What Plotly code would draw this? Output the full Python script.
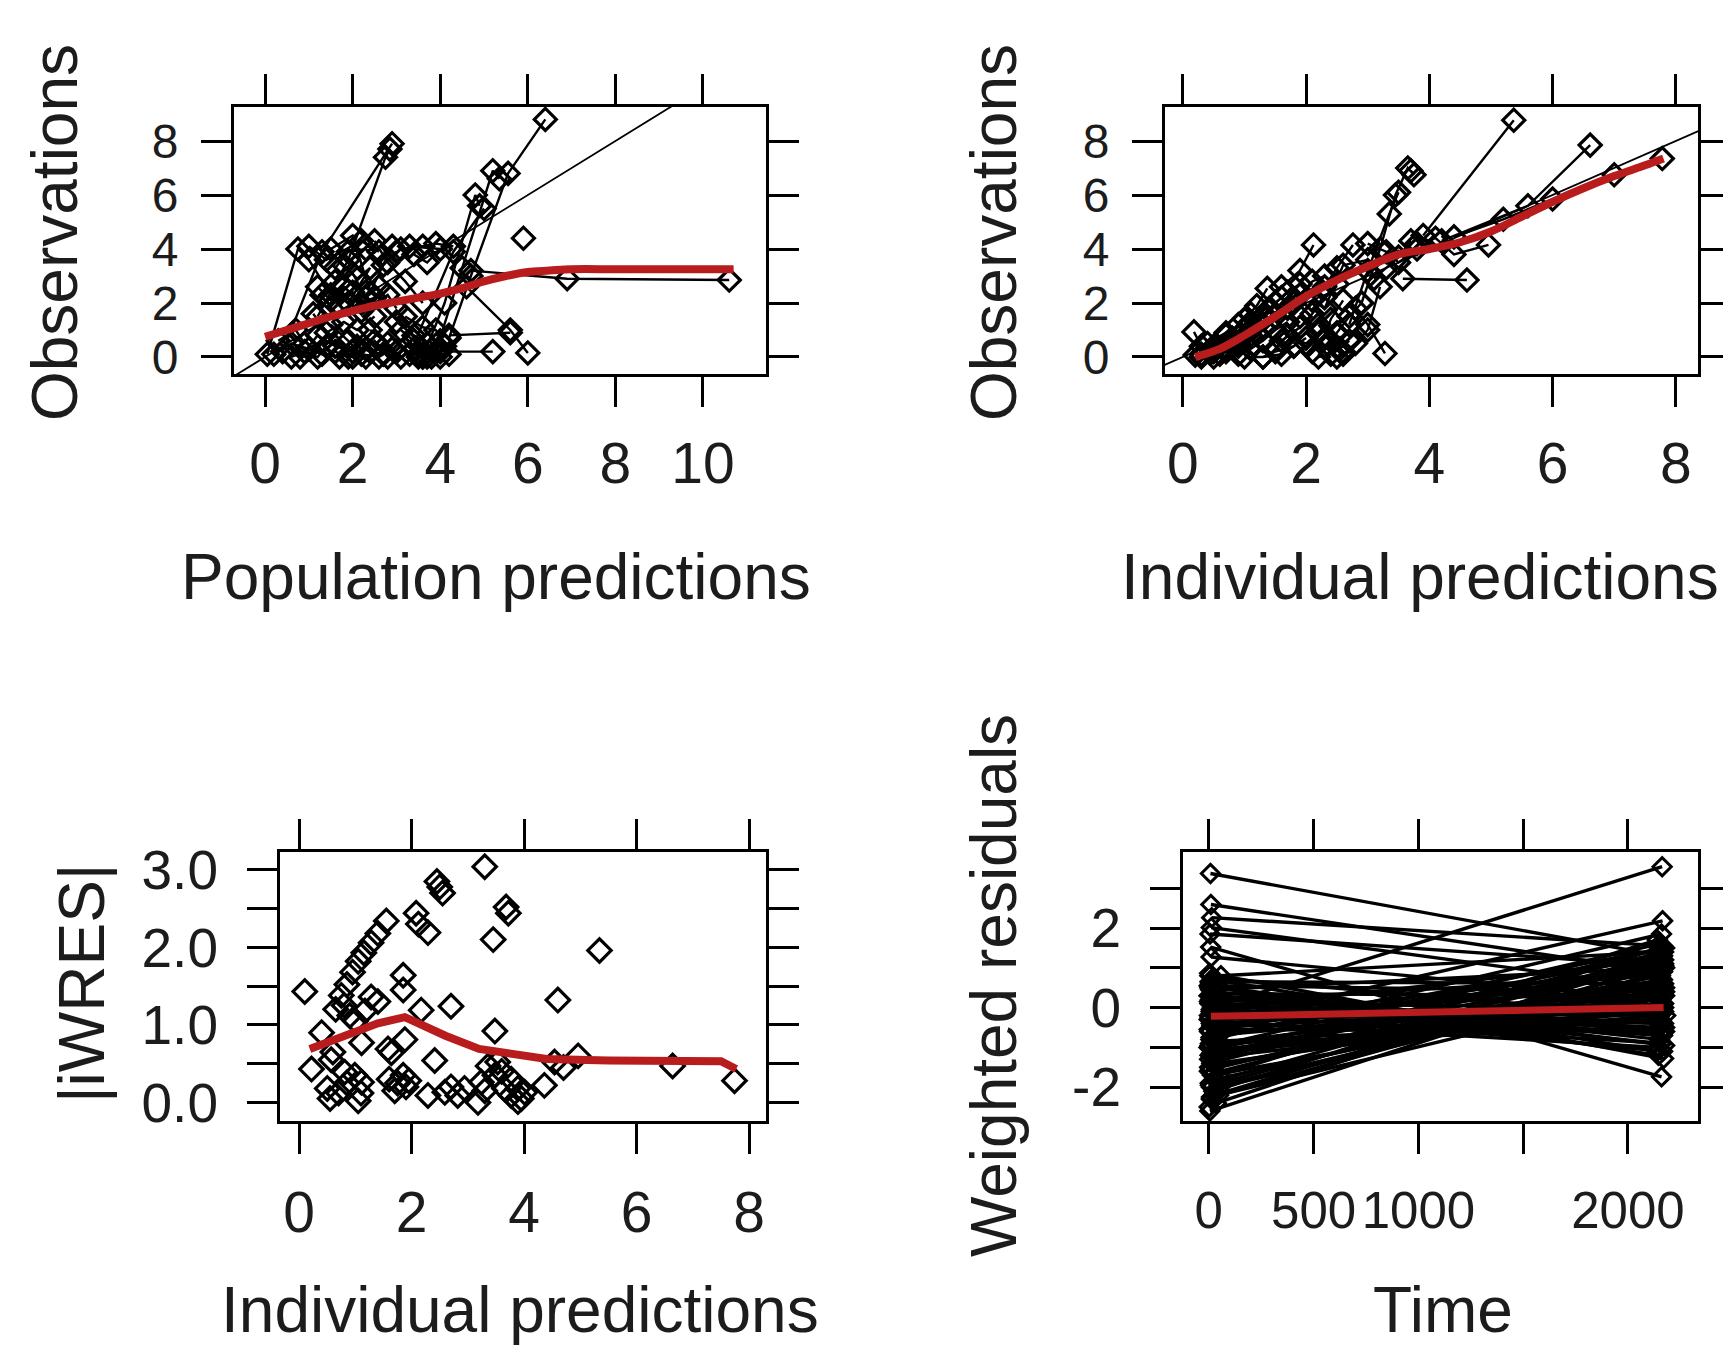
import plotly.graph_objects as go

# ---------------- data ----------------
# Panel 1: Population predictions (x) vs Observations (y), one list per individual
p1_pred = [
    [0.4, 1.3, 2.9], [1.2, 1.9, 2.75, 2.85], [0.05, 0.75, 1.0, 1.5],
    [3.6, 4.1, 4.8, 4.9], [3.9, 4.5, 5.2, 5.35], [4.2, 4.7, 5.55, 6.4],
    [3.3, 4.3, 5.0], [5.9], [4.7, 6.9, 10.6], [4.6, 5.6, 6.0],
    [4.2, 5.6], [4.0, 5.2], [1.0, 1.4, 2.2, 2.6], [1.5, 2.0, 2.4, 2.9],
    [3.1, 3.6, 3.9, 4.3], [2.5, 2.8, 3.2, 3.6], [1.3, 1.6, 2.0, 2.3, 2.6],
    [1.7, 2.0, 2.2, 2.8, 3.0], [1.8, 2.1, 2.4, 1.9], [0.2, 0.6, 1.0, 1.3, 1.7],
    [0.8, 1.2, 1.6, 2.0, 2.3], [1.5, 1.9, 2.2, 2.6, 2.9], [2.4, 2.8, 3.1, 3.4, 3.7],
    [3.0, 3.4, 3.7, 4.0, 3.5], [1.1, 1.4, 1.8, 2.1, 2.5], [3.2, 3.6, 3.9, 4.1],
    [0.3, 0.7, 0.9], [1.6, 1.9, 2.1, 2.4, 2.7], [2.0, 2.3, 2.5, 2.8, 3.0],
    [3.3, 3.5, 3.8, 4.0, 4.2], [1.6, 1.9, 2.3, 2.7, 3.0], [1.2, 1.5, 1.8, 2.2, 2.5],
    [3.4, 3.7, 4.0, 3.3], [0.6, 0.9, 1.2, 1.4], [3.6, 3.8, 3.4, 3.1],
]
p1_obs = [
    [0.2, 3.9, 7.9], [1.5, 3.6, 7.4, 7.7], [0.1, 4.0, 3.6, 2.3],
    [0.0, 2.0, 6.0, 5.6], [0.2, 3.3, 6.9, 6.6], [0.7, 3.0, 6.8, 8.8],
    [0.1, 3.9, 5.5], [4.4], [3.2, 2.9, 2.85], [2.6, 1.0, 0.15],
    [0.8, 0.9], [0.2, 0.2], [4.1, 3.6, 4.3, 3.9], [4.0, 4.5, 2.4, 4.1],
    [4.0, 4.1, 4.2, 4.1], [4.3, 3.5, 2.8, 2.0], [2.3, 2.8, 3.1, 2.2, 2.6],
    [1.9, 2.4, 1.7, 2.3, 1.8], [3.4, 2.9, 3.3, 2.0], [0.1, 0.5, 0.3, 0.1, 0.0],
    [0.0, 0.8, 0.4, 0.2, 0.0], [1.2, 0.6, 0.1, 0.0, 0.3], [1.0, 0.5, 0.0, 0.3, 0.0],
    [1.3, 0.8, 0.5, 0.0, 0.1], [1.6, 0.9, 1.3, 1.0, 1.5], [1.5, 1.1, 1.0, 0.4],
    [0.6, 1.0, 0.5], [0.2, 0.0, 0.4, 0.2, 0.1], [0.0, 0.3, 0.6, 0.0, 0.2],
    [0.5, 0.0, 0.3, 0.6, 0.1], [3.3, 3.9, 4.0, 3.4, 3.9], [2.6, 2.1, 2.6, 2.0, 2.2],
    [3.8, 3.5, 4.0, 4.1], [0.0, 0.2, 0.0, 0.4], [0.0, 0.0, 0.6, 1.0],
]
p1_smooth_x = [0.0, 0.5, 1.0, 1.5, 2.0, 2.5, 3.0, 3.5, 4.0, 4.5, 5.0, 5.5, 6.0, 6.5, 7.0, 8.0, 9.0, 10.0, 10.7]
p1_smooth_y = [0.75, 1.0, 1.25, 1.5, 1.7, 1.9, 2.05, 2.2, 2.35, 2.55, 2.8, 3.0, 3.15, 3.2, 3.25, 3.25, 3.25, 3.25, 3.25]

# Panel 2: Individual predictions (x) vs Observations (y)
p2_ipred = [
    [3.9, 5.37], [4.2, 5.6, 6.61], [4.4, 5.2, 6.0, 7.0, 7.78],
    [2.9, 3.2, 3.45, 3.65, 3.75, 3.7], [2.7, 3.0, 3.35, 3.5], [3.57, 4.61],
    [2.8, 3.0, 3.28], [3.8, 4.1, 4.4, 4.96], [1.6, 1.9, 2.12], [2.3, 2.5, 2.76],
    [1.0, 1.2, 1.37], [0.18, 0.3, 0.5], [0.2, 0.5, 0.8, 1.0], [0.6, 0.9, 1.2, 1.5, 1.8],
    [1.0, 1.3, 1.6, 1.8], [2.1, 2.3, 2.4, 2.6], [2.2, 2.4, 2.55, 2.7],
    [1.6, 1.9, 2.1, 2.3, 2.5], [2.5, 2.6, 2.4, 2.2], [1.9, 2.1, 2.3, 2.6, 3.0],
    [3.0, 3.3, 3.5, 3.8], [0.4, 0.7, 1.1, 1.4], [1.5, 1.7, 2.0, 2.2], [0.3, 0.45, 0.65, 0.85],
    [0.5, 0.7, 0.9, 1.1, 1.3], [0.9, 1.1, 1.3, 1.5, 1.7], [1.7, 1.9, 2.1, 2.3],
    [2.3, 2.5, 2.7, 2.9], [2.6, 2.8, 3.0, 3.2], [3.1, 3.3, 3.5, 3.7], [1.3, 1.5, 1.8, 2.0],
    [0.3, 0.5, 0.7, 0.9, 1.1], [0.8, 1.0, 1.2, 1.4, 1.6], [1.1, 1.3, 1.5, 1.7, 1.9],
]
p2_obs = [
    [4.5, 8.77], [4.3, 5.6, 7.85], [4.45, 5.1, 5.85, 6.75, 7.35],
    [2.0, 4.0, 6.0, 7.0, 6.75, 6.9], [1.2, 3.2, 5.3, 6.1], [2.9, 2.85],
    [1.8, 1.2, 0.13], [4.2, 4.4, 3.8, 4.15], [2.6, 3.2, 4.15], [2.6, 3.3, 4.15],
    [1.4, 1.9, 2.54], [0.93, 0.4, 0.2], [0.07, 0.3, 0.7, 1.0], [0.1, 0.4, 0.9, 1.5, 2.0],
    [0.0, 0.0, 0.1, 0.4], [0.2, 0.7, 1.4, 2.1], [0.0, 0.1, 0.3, 0.6],
    [0.6, 1.1, 1.6, 2.2, 2.7], [0.0, 0.2, 0.6, 1.2], [1.5, 2.1, 1.8, 3.4, 3.6],
    [4.2, 3.9, 3.5, 4.0], [0.5, 0.9, 1.3, 1.7], [0.3, 0.8, 0.5, 0.9], [0.0, 0.15, 0.35, 0.6],
    [0.0, 0.2, 0.5, 0.8, 1.1], [0.1, 0.3, 0.6, 1.0, 1.3], [1.8, 2.3, 2.8, 3.0],
    [0.4, 0.9, 1.5, 2.0], [0.1, 0.5, 1.0, 2.6], [2.9, 3.3, 3.7, 4.3], [0.0, 0.2, 0.4, 0.7],
    [0.1, 0.4, 0.8, 1.2, 1.6], [0.6, 1.0, 1.3, 1.8, 2.2], [1.0, 1.5, 2.0, 2.4, 2.7],
]
p2_smooth_x = [0.2, 0.6, 1.0, 1.5, 2.0, 2.5, 3.0, 3.5, 4.0, 4.5, 5.0, 5.5, 6.0, 6.5, 7.0, 7.5, 7.8]
p2_smooth_y = [0.0, 0.3, 0.8, 1.5, 2.25, 2.85, 3.35, 3.8, 4.0, 4.25, 4.65, 5.2, 5.75, 6.25, 6.7, 7.1, 7.35]

# Panel 3: Individual predictions (x) vs |iWRES| (y)
p3_ipred = [3.30, 2.45, 2.50, 2.55, 3.68, 3.72, 3.45, 1.55, 2.08, 2.12, 2.29, 5.34,
            0.65, 0.75, 0.85, 0.95, 1.05, 1.15, 1.28, 1.40, 0.10, 1.85, 1.85, 2.70, 2.17,
            4.60, 3.48, 1.28, 1.40, 0.80, 0.90, 1.00, 1.17, 0.40, 1.11, 1.64, 1.88, 2.41,
            0.22, 0.57, 0.81, 0.60, 4.96, 4.54, 4.70, 6.64, 7.74, 4.36,
            0.50, 0.55, 0.70, 0.99, 1.10, 1.05, 0.85, 1.60, 1.75, 1.90, 1.70, 1.85, 1.95,
            2.29, 2.59, 2.82, 2.94, 2.70, 3.18, 3.24, 3.36, 3.48, 3.65, 3.77, 3.89, 4.01,
            3.53, 3.77, 3.89, 3.60, 3.30, 3.95, 1.58, 1.11]
p3_iwres = [3.04, 2.85, 2.78, 2.70, 2.52, 2.44, 2.10, 2.34, 2.44, 2.30, 2.19, 1.96,
            1.20, 1.38, 1.52, 1.68, 1.82, 1.93, 2.06, 2.18, 1.43, 1.64, 1.45, 1.24, 1.19,
            1.32, 0.92, 1.36, 1.30, 1.25, 1.12, 1.05, 1.18, 0.90, 0.77, 0.64, 0.81, 0.54,
            0.43, 0.55, 0.39, 0.65, 0.60, 0.52, 0.45, 0.47, 0.28, 0.22,
            0.18, 0.05, 0.12, 0.35, 0.12, 0.02, 0.25, 0.30, 0.25, 0.20, 0.15, 0.35, 0.28,
            0.09, 0.13, 0.09, 0.18, 0.20, 0.00, 0.26, 0.47, 0.35, 0.18, 0.09, 0.01, 0.13,
            0.52, 0.30, 0.18, 0.40, 0.15, 0.05, 0.69, 0.26]
p3_smooth_x = [0.19, 0.8, 1.4, 1.88, 2.1, 2.6, 3.2, 3.8, 4.4, 5.5, 6.5, 7.5, 7.77]
p3_smooth_y = [0.69, 0.86, 1.02, 1.10, 1.02, 0.86, 0.69, 0.63, 0.56, 0.54, 0.54, 0.53, 0.43]

# Panel 4: Time (x) vs Weighted residuals (y), one list per individual
p4_time = [
    [8, 2160], [10, 2150], [14, 2165], [12, 2145], [6, 2170], [9, 2160], [11, 2155],
    [4, 2170], [20, 2140], [2, 2175], [30, 2150], [15, 2165], [25, 2155], [5, 2145],
    [18, 2163], [35, 2180], [3, 2150], [28, 2140], [12, 2165], [40, 2170], [7, 2155],
    [22, 2145], [16, 2160], [33, 2175], [1, 2150], [26, 2165], [10, 2140], [38, 2170],
    [4, 2155], [19, 2160], [30, 2145], [8, 2175], [24, 2150], [13, 2165], [36, 2155],
    [5, 2160], [21, 2150], [6, 2170], [31, 2145], [9, 2160], [17, 2175], [27, 2155],
    [3, 2140], [34, 2165], [12, 2150], [23, 2170], [7, 2160], [29, 2145], [15, 2155],
    [2, 2175], [37, 2150], [11, 2165], [25, 2140], [6, 2160], [32, 2170], [14, 2155],
    [20, 2145], [4, 2165], [28, 2150], [9, 2160], [18, 2175], [35, 2140], [13, 2155],
    [26, 2170],
    [2, 45, 2150], [5, 50, 2160], [10, 55, 2170], [3, 42, 2145], [8, 48, 2165],
    [12, 52, 2155], [6, 44, 2175], [9, 58, 2150], [4, 46, 2160], [7, 50, 2140],
    [1, 40, 2170], [11, 54, 2155], [2, 47, 2165], [14, 60, 2150], [5, 43, 2145],
    [8, 51, 2175],
]
p4_wres = [
    [3.37, 1.30], [2.59, 0.90], [2.26, 1.55], [2.01, 0.50], [1.85, 1.05], [1.52, -1.74],
    [1.27, 0.20], [0.86, -1.28], [0.70, -1.10], [0.55, -0.95], [0.40, -0.80], [0.30, -0.60],
    [0.20, -0.40], [0.10, -0.50], [0.00, 3.54], [-0.10, -0.20], [-0.20, 0.00], [-0.30, -0.10],
    [-0.40, 2.18], [-0.50, 0.10], [-0.60, -0.30], [-0.70, 0.30], [-0.80, 1.85], [-0.90, 0.50],
    [-1.00, 1.60], [-1.10, 0.70], [-1.20, 0.40], [-1.35, 1.40], [-1.50, 0.80], [-1.65, 1.20],
    [-1.80, 0.60], [-1.95, 1.00], [-2.10, 1.50], [-2.25, 0.90], [-2.40, 1.30], [-2.60, 1.10],
    [0.75, -0.20], [0.65, 0.60], [0.50, -1.20], [0.45, 1.00], [0.35, 0.30], [0.25, -0.90],
    [0.15, 0.80], [0.05, -0.70], [-0.05, 1.20], [-0.15, -0.40], [-0.25, 0.50], [-0.35, -1.00],
    [-0.45, 0.90], [-0.55, -0.60], [-0.65, 0.20], [-0.75, 1.30], [-0.85, -0.30], [-0.95, 0.60],
    [-1.05, -0.10], [-1.15, 1.00], [-1.25, 0.00], [-1.30, 1.50], [-1.45, 0.30], [-1.55, 1.10],
    [-1.70, 0.40], [-1.85, 1.30], [-2.00, 0.70], [-2.20, 1.20],
    [-0.30, -0.50, 0.90], [0.50, 0.30, -0.70], [-0.80, -1.00, 1.10], [-1.60, -1.40, 0.20],
    [0.20, 0.00, -1.10], [-2.30, -2.00, 0.60], [-1.20, -0.90, -0.50], [0.60, 0.80, 1.40],
    [-0.60, -0.20, -0.90], [-1.90, -1.70, 1.70], [0.30, 0.10, 0.00], [-0.10, -0.30, 1.00],
    [-2.50, -2.20, 0.50], [-1.40, -1.10, -0.20], [0.80, 0.55, 0.40], [-0.90, -0.70, 1.50],
]
p4_smooth_x = [10, 500, 1000, 1500, 2000, 2170]
p4_smooth_y = [-0.22, -0.18, -0.12, -0.07, -0.02, 0.0]

# ---------------- style / layout ----------------
W, H = 1723, 1349
FONT = "Liberation Sans, Arial, sans-serif"
INK = "#000000"
TXT = "#1c1c1c"
RED = "#B81C1C"

# plot boxes in pixels: (left, right, top, bottom)
boxes = {
    1: (234, 766, 107, 374),
    2: (1165, 1698, 107, 374),
    3: (280, 766, 852, 1121),
    4: (1183, 1698, 852, 1121),
}


def join(groups_x, groups_y):
    xs, ys = [], []
    for gx, gy in zip(groups_x, groups_y):
        xs += list(gx) + [None]
        ys += list(gy) + [None]
    return xs, ys


fig = go.Figure()

line_style = dict(color=INK, width=2.4)
mk = dict(symbol="diamond-open", size=17, color=INK, line=dict(color=INK, width=3.2))

# Panel 1
fig.add_trace(go.Scatter(x=[-1, 12], y=[-1, 12], mode="lines", line=dict(color=INK, width=1.8),
                         xaxis="x", yaxis="y", hoverinfo="skip"))
x1, y1 = join(p1_pred, p1_obs)
fig.add_trace(go.Scatter(x=x1, y=y1, mode="lines+markers", line=line_style, marker=mk,
                         xaxis="x", yaxis="y"))
fig.add_trace(go.Scatter(x=p1_smooth_x, y=p1_smooth_y, mode="lines",
                         line=dict(color=RED, width=8, shape="spline"), xaxis="x", yaxis="y"))

# Panel 2
fig.add_trace(go.Scatter(x=[-1, 12], y=[-1, 12], mode="lines", line=dict(color=INK, width=1.8),
                         xaxis="x2", yaxis="y2", hoverinfo="skip"))
x2, y2 = join(p2_ipred, p2_obs)
fig.add_trace(go.Scatter(x=x2, y=y2, mode="lines+markers", line=line_style, marker=mk,
                         xaxis="x2", yaxis="y2"))
fig.add_trace(go.Scatter(x=p2_smooth_x, y=p2_smooth_y, mode="lines",
                         line=dict(color=RED, width=8, shape="spline"), xaxis="x2", yaxis="y2"))

# Panel 3
fig.add_trace(go.Scatter(x=p3_ipred, y=p3_iwres, mode="markers",
                         marker=dict(symbol="diamond-open", size=18, color=INK,
                                     line=dict(color=INK, width=3.2)),
                         xaxis="x3", yaxis="y3"))
fig.add_trace(go.Scatter(x=p3_smooth_x, y=p3_smooth_y, mode="lines",
                         line=dict(color=RED, width=8), xaxis="x3", yaxis="y3"))

# Panel 4
x4, y4 = join(p4_time, p4_wres)
fig.add_trace(go.Scatter(x=x4, y=y4, mode="lines+markers", line=dict(color=INK, width=3.4),
                         marker=dict(symbol="diamond-open", size=14, color=INK,
                                     line=dict(color=INK, width=3)),
                         xaxis="x4", yaxis="y4"))
fig.add_trace(go.Scatter(x=p4_smooth_x, y=p4_smooth_y, mode="lines",
                         line=dict(color=RED, width=7), xaxis="x4", yaxis="y4"))


def axis(dom, rng, vals, texts, anchor, fsize, standoff):
    return dict(domain=dom, range=rng, tickmode="array", tickvals=vals, ticktext=texts,
                anchor=anchor, showline=True, linecolor=INK, linewidth=3, mirror="ticks",
                ticks="outside", ticklen=30, tickwidth=3, tickcolor=INK, showgrid=False,
                zeroline=False, fixedrange=True, automargin=False, tickangle=0,
                tickfont=dict(family=FONT, size=fsize, color=TXT),
                ticklabelstandoff=standoff)


def xdom(k):
    l, r, t, b = boxes[k]
    return [l / W, r / W]


def ydom(k):
    l, r, t, b = boxes[k]
    return [1 - b / H, 1 - t / H]


layout = dict(
    width=W, height=H, margin=dict(l=0, r=0, t=0, b=0, pad=0), autosize=False,
    paper_bgcolor="white", plot_bgcolor="white", showlegend=False,
    xaxis=axis(xdom(1), [-0.71, 11.44], [0, 2, 4, 6, 8, 10], ["0", "2", "4", "6", "8", "10"], "y", 57, 8),
    yaxis=axis(ydom(1), [-0.63, 9.26], [0, 2, 4, 6, 8], ["0", "2", "4", "6", "8"], "x", 48, 13),
    xaxis2=axis(xdom(2), [-0.29, 8.36], [0, 2, 4, 6, 8], ["0", "2", "4", "6", "8"], "y2", 57, 8),
    yaxis2=axis(ydom(2), [-0.63, 9.26], [0, 2, 4, 6, 8], ["0", "2", "4", "6", "8"], "x2", 48, 13),
    xaxis3=axis(xdom(3), [-0.34, 8.3], [0, 2, 4, 6, 8], ["0", "2", "4", "6", "8"], "y3", 57, 10),
    yaxis3=axis(ydom(3), [-0.24, 3.23], [0, 0.5, 1, 1.5, 2, 2.5, 3],
                ["0.0", "", "1.0", "", "2.0", "", "3.0"], "x3", 55, 18),
    xaxis4=axis(xdom(4), [-123, 2334], [0, 500, 1000, 1500, 2000],
                ["0", "500", "1000", "", "2000"], "y4", 51, 13),
    yaxis4=axis(ydom(4), [-2.85, 3.91], [-2, -1, 0, 1, 2, 3],
                ["-2", "", "0", "", "2", ""], "x4", 55, 18),
)
fig.update_layout(**layout)

titles = [
    ("Observations", 55, 233, -90),
    ("Population predictions", 496, 577, 0),
    ("Observations", 994, 233, -90),
    ("Individual predictions", 1420, 577, 0),
    ("|iWRES|", 82, 984, -90),
    ("Individual predictions", 520, 1310, 0),
    ("Weighted residuals", 994, 986, -90),
    ("Time", 1443, 1310, 0),
]
for text, px, py, ang in titles:
    fig.add_annotation(text=text, x=px / W, y=1 - py / H, xref="paper", yref="paper",
                       xanchor="center", yanchor="middle", textangle=ang, showarrow=False,
                       font=dict(family=FONT, size=64, color=TXT))

fig.write_html("out.html", config={"displayModeBar": False},
               post_script="document.body.style.margin='0';document.body.style.overflow='hidden';")
